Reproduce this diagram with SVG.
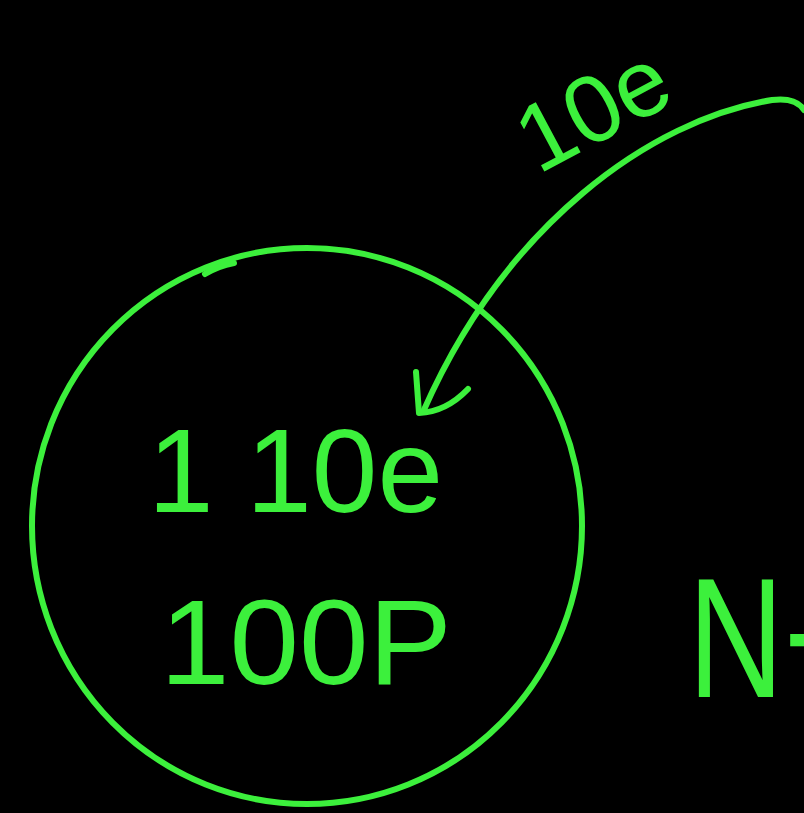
<svg xmlns="http://www.w3.org/2000/svg" width="804" height="813" viewBox="0 0 804 813">
<style>
.ink{fill:none;stroke:#3cf03c;stroke-width:6;stroke-linecap:round;stroke-linejoin:round}
.t{fill:#3cf03c;font-family:"Liberation Sans","DejaVu Sans",sans-serif}
</style>
<rect width="804" height="813" fill="#000"/>
<g id="node-circle">
<ellipse class="ink" cx="307" cy="526" rx="275" ry="278"/>
<path class="ink" d="M205 274 Q218 266 234 263"/>
<text class="t" x="148" y="512" font-size="118" textLength="295" lengthAdjust="spacingAndGlyphs">1 10e</text>
<text class="t" x="160" y="684" font-size="120" textLength="292" lengthAdjust="spacingAndGlyphs">100P</text>
</g>
<g id="label-10e">
<text class="t" x="0" y="0" font-size="95" transform="translate(538 175) rotate(-28)">10e</text>
</g>
<g id="node-n">
<text class="t" x="0" y="0" font-size="170" transform="translate(688 697) scale(0.78 1)">N+</text>
</g>
<g id="connectors">
<path class="ink" d="M804 110 Q796 97 772 100 C650 120 505 225 423 412"/>
<path class="ink" d="M416 372 L419 413 Q446 412 468 389"/>
</g>
</svg>
